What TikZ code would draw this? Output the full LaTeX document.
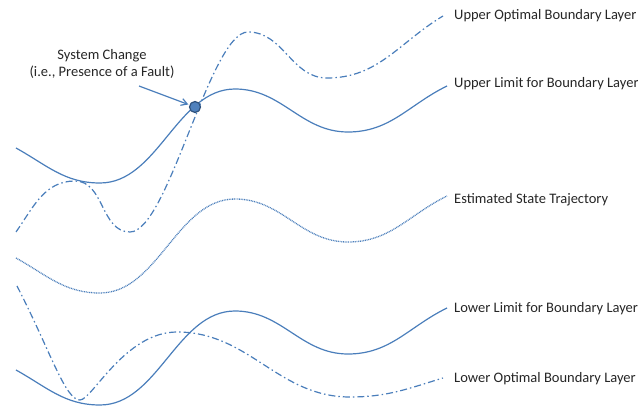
\documentclass[tikz,border=0pt]{standalone}
\usepackage{fontspec}
\setmainfont{Carlito}
\usetikzlibrary{arrows.meta}
\definecolor{lineblue}{RGB}{74,126,187}
\definecolor{dotblue}{RGB}{79,129,189}
\definecolor{dotedge}{RGB}{47,82,125}
\definecolor{labelgray}{RGB}{38,38,38}
\begin{document}
\begin{tikzpicture}[x=1pt,y=1pt,
  curve/.style={lineblue,line width=1.2pt},
  dashdot/.style={curve,dash pattern=on 7pt off 3pt on 1.5pt off 3pt},
  finedots/.style={lineblue,line width=1.3pt,dash pattern=on 0.9pt off 0.8pt},
  laytext/.style={anchor=base west,inner sep=0pt,text=labelgray,font=\fontsize{14.5}{17.5}\selectfont},
  faultdot/.style={circle,fill=dotblue,draw=dotedge,line width=1.2pt,minimum size=11pt,inner sep=0pt},
  pointer/.style={-{Straight Barb[length=6pt,width=7pt]},lineblue,line width=1.2pt,shorten >=1pt}]
\useasboundingbox (0,0) rectangle (638,-406);
\draw [curve] (16,-148) to[out=-29,in=180] (100,-183) to[out=0,in=180,looseness=0.9] (235,-89)
	to[out=0,in=180] (348,-132) to[out=0,in=-154] (447,-86);
\draw [finedots,shift={(0,-110)}] (16,-148) to[out=-29,in=180] (100,-183) to[out=0,in=180,looseness=0.9] (235,-89)
	to[out=0,in=180] (348,-132) to[out=0,in=-154] (447,-86);
\draw [curve,shift={(0,-222)}] (16,-148) to[out=-29,in=180] (100,-183) to[out=0,in=180,looseness=0.9] (235,-89)
	to[out=0,in=180] (348,-132) to[out=0,in=-154] (447,-86);
\draw [dashdot] (16,-232) to[out=55,in=180] (75,-181) to[out=0,in=180] (130,-232)
	.. controls (168,-232) and (210,-32) .. (248,-32) to[out=0,in=180] (327,-78) to[out=0,in=-149] (443,-16);
\draw [dashdot] (17,-286) .. controls (50,-350) and (65,-400) .. (80,-400)
	.. controls (92,-400) and (125,-332) .. (177,-332) to[out=0,in=180] (350,-397) to[out=0,in=-163] (443,-378);
\node [faultdot] (fault) at (195,-107) {};
\node [laytext,anchor=center,align=center] (change) at (102,-64) {System Change\\(i.e., Presence of a Fault)};
\coordinate (tail) at (139,-86);
\draw [pointer] (tail) -- (fault);
\node [laytext] (upperopt) at (454,-20) {Upper Optimal Boundary Layer};
\node [laytext] (upperlim) at (454,-88) {Upper Limit for Boundary Layer};
\node [laytext] (estimate) at (454,-204) {Estimated State Trajectory};
\node [laytext] (lowerlim) at (454,-313) {Lower Limit for Boundary Layer};
\node [laytext] (loweropt) at (454,-382) {Lower Optimal Boundary Layer};
\end{tikzpicture}
\end{document}
